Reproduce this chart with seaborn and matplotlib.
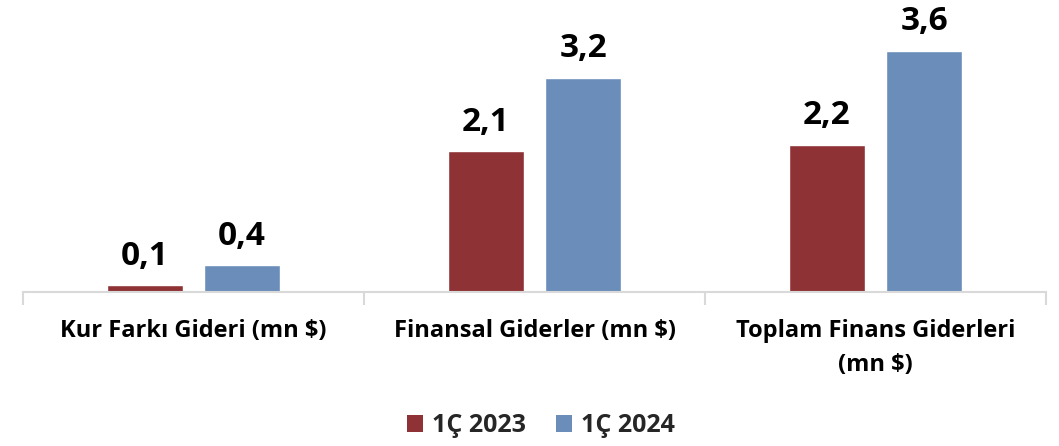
import matplotlib
matplotlib.use("Agg")
import matplotlib.pyplot as plt
import seaborn as sns
import pandas as pd
from matplotlib.patches import Patch

categories = ["Kur Farkı Gideri (mn $)", "Finansal Giderler (mn $)", "Toplam Finans Giderleri\n(mn $)"]
series_names = ["1Ç 2023", "1Ç 2024"]
values_2023 = [0.1, 2.1, 2.2]
values_2024 = [0.4, 3.2, 3.6]
colors = ["#8F3235", "#6A8DBA"]

df = pd.DataFrame({
    "cat": categories * 2,
    "series": [series_names[0]] * 3 + [series_names[1]] * 3,
    "val": values_2023 + values_2024,
})

sns.set_theme(style="white")
plt.rcParams["font.family"] = ["Open Sans", "DejaVu Sans"]

fig = plt.figure(figsize=(10.59, 4.46), dpi=100)
ax = fig.add_axes([23 / 1059, 154 / 446, 1023 / 1059, 292 / 446])

sns.barplot(data=df, x="cat", y="val", hue="series", palette=colors,
            width=0.57, gap=0.22, ax=ax, legend=False, saturation=1)

for cont in ax.containers:
    labels = [f"{v:.1f}".replace(".", ",") for v in cont.datavalues]
    ax.bar_label(cont, labels=labels, padding=9, fontsize=24, fontweight="bold", color="black")

ax.set_xlim(-0.5, 2.5)
ax.set_ylim(0, 4.36)
ax.set_xlabel("")
ax.set_ylabel("")
ax.set_yticks([])
for s in ["left", "right", "top"]:
    ax.spines[s].set_visible(False)
ax.spines["bottom"].set_color("#D9D9D9")
ax.spines["bottom"].set_linewidth(1.5)

ax.set_xticks([0, 1, 2])
ax.set_xticklabels(categories, fontsize=17, fontweight="bold", color="black", linespacing=1.55)
ax.tick_params(axis="x", which="major", length=0, pad=19.5)
ax.set_xticks([-0.5, 0.5, 1.5, 2.5], minor=True)
ax.tick_params(axis="x", which="minor", length=9, width=1.5, color="#D9D9D9", bottom=True)

handles = [Patch(facecolor=c, edgecolor="none") for c in colors]
fig.legend(handles, series_names, loc="center", bbox_to_anchor=(0.5 + 11 / 1059, 20 / 446), ncol=2,
           frameon=False, prop={"weight": "bold", "size": 18}, handlelength=0.65, handleheight=0.65,
           handletextpad=0.35, columnspacing=1.2)

fig.savefig("out.png", dpi=100)
